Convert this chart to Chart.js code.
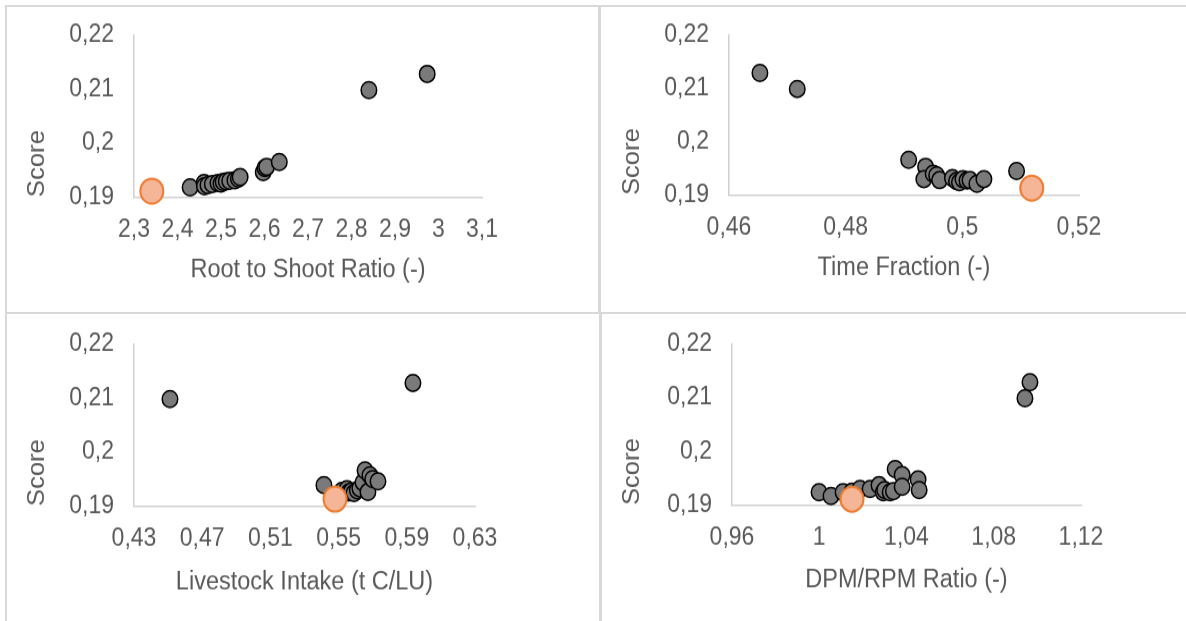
<!DOCTYPE html>
<html>
<head>
<meta charset="utf-8">
<script src="https://cdn.jsdelivr.net/npm/chart.js@4.4.0/dist/chart.umd.min.js"></script>
<style>
    body { margin: 0; background: #fff; width: 1186px; height: 621px; overflow: hidden; position: relative; }
    .frame { position: absolute; box-sizing: border-box; border: 2px solid #d9d9d9; }
    canvas { position: absolute; }
</style>
</head>
<body>
<div class="frame" style="left:5px; top:5px; width:595px; height:309px;"></div>
<div class="frame" style="left:599px; top:5px; width:600px; height:309px;"></div>
<div class="frame" style="left:5px; top:312px; width:596px; height:320px;"></div>
<div class="frame" style="left:600px; top:312px; width:600px; height:320px;"></div>

<canvas id="c-root" style="left:7px; top:7px;"></canvas>
<canvas id="c-time" style="left:601px; top:7px;"></canvas>
<canvas id="c-intake" style="left:7px; top:316px;"></canvas>
<canvas id="c-dpm" style="left:602px; top:316px;"></canvas>

<script>
// Root to shoot ratio
const rootX = [2.429, 2.461, 2.462, 2.470, 2.480, 2.493, 2.500, 2.505, 2.512, 2.520, 2.532, 2.540, 2.544, 2.597, 2.601, 2.605, 2.634, 2.840, 2.974];
const rootY = [0.1918, 0.1926, 0.1920, 0.1922, 0.1924, 0.1926, 0.1925, 0.1928, 0.1929, 0.1930, 0.1931, 0.1934, 0.1937, 0.1946, 0.1954, 0.1956, 0.1965, 0.2098, 0.2128];
const rootBest = [2.341, 0.1911];
const rootTicks = [2.3, 3.1, 0.1];

// Time fraction
const timeX = [0.4653, 0.4717, 0.4908, 0.4937, 0.4934, 0.4950, 0.4956, 0.4961, 0.4983, 0.4990, 0.4995, 0.5001, 0.5008, 0.5013, 0.5025, 0.5037, 0.5093];
const timeY = [0.2129, 0.2099, 0.1966, 0.1953, 0.1930, 0.1940, 0.1937, 0.1928, 0.1932, 0.1926, 0.1924, 0.1930, 0.1927, 0.1928, 0.1921, 0.1930, 0.1945];
const timeBest = [0.5119, 0.1913];
const timeTicks = [0.46, 0.52, 0.02];

// Livestock intake
const intakeX = [0.4511, 0.5936, 0.5414, 0.5490, 0.5520, 0.5549, 0.5560, 0.5575, 0.5590, 0.5610, 0.5625, 0.5643, 0.5655, 0.5672, 0.5684, 0.5700, 0.5731];
const intakeY = [0.2098, 0.2128, 0.1939, 0.1920, 0.1928, 0.1931, 0.1925, 0.1927, 0.1924, 0.1929, 0.1933, 0.1944, 0.1966, 0.1926, 0.1957, 0.1950, 0.1946];
const intakeBest = [0.5479, 0.1913];
const intakeTicks = [0.43, 0.63, 0.04];

// DPM/RPM ratio
const dpmX = [1.0966, 1.0943, 0.9999, 1.0054, 1.0109, 1.0150, 1.0187, 1.0233, 1.0274, 1.0293, 1.0300, 1.0325, 1.0340, 1.0348, 1.0380, 1.0380, 1.0453, 1.0458];
const dpmY = [0.2129, 0.2099, 0.1924, 0.1917, 0.1924, 0.1925, 0.1930, 0.1930, 0.1937, 0.1924, 0.1928, 0.1924, 0.1926, 0.1967, 0.1956, 0.1934, 0.1948, 0.1928];
const dpmBest = [1.0150, 0.1911];
const dpmTicks = [0.96, 1.12, 0.04];

const scoreTicks = [0.19, 0.22, 0.01];

const FONT = "'Liberation Sans', Arial, sans-serif";
const TEXT = '#595959';
const AXIS = '#d0d0d0';
const TICK_SIZE = 23;
const TITLE_SIZE = 23.5;
// the original picture is a little taller than wide, so draw short and stretch
const K = 1.09;

function fmt(v) {
    return String(Number(v.toFixed(3))).replace('.', ',');
}

function makeChart(id, xs, ys, best, xTicks, xTitle, box) {
    const canvas = document.getElementById(id);
    canvas.width = box.w;
    canvas.height = Math.round(box.h / K);
    canvas.style.width = box.w + 'px';
    canvas.style.height = box.h + 'px';

    const halfTitle = TITLE_SIZE * 1.2 / 2;
    const points = xs.map((x, i) => ({ x: x, y: ys[i] }));
    return new Chart(canvas, {
        type: 'scatter',
        data: {
            datasets: [
                {
                    data: points,
                    order: 1,
                    clip: false,
                    pointRadius: 7.75,
                    pointHoverRadius: 7.75,
                    backgroundColor: '#7a7a7a',
                    borderColor: '#000',
                    borderWidth: 1.5
                },
                {
                    data: [{ x: best[0], y: best[1] }],
                    order: 0,
                    clip: false,
                    pointRadius: 11.5,
                    pointHoverRadius: 11.5,
                    backgroundColor: '#f5b597',
                    borderColor: '#ed7d31',
                    borderWidth: 2
                }
            ]
        },
        options: {
            responsive: false,
            animation: false,
            events: [],
            layout: { padding: { left: 0, top: box.top / K, right: box.right, bottom: 0 } },
            plugins: { legend: { display: false }, tooltip: { enabled: false } },
            scales: {
                x: {
                    type: 'linear',
                    min: xTicks[0],
                    max: xTicks[1],
                    grid: { display: false, drawTicks: false },
                    border: { color: AXIS, width: 1.5 },
                    ticks: {
                        stepSize: xTicks[2],
                        padding: 16,
                        color: TEXT,
                        font: { family: FONT, size: TICK_SIZE },
                        maxRotation: 0,
                        autoSkip: false,
                        callback: v => fmt(v)
                    },
                    title: {
                        display: true,
                        text: xTitle,
                        color: TEXT,
                        font: { family: FONT, size: TITLE_SIZE },
                        padding: { top: 0, bottom: box.xTitle / K - halfTitle }
                    },
                    afterFit: s => {
                        s.height = box.xHeight / K;
                        s.paddingLeft = 0;
                        s.paddingRight = 0;
                    }
                },
                y: {
                    type: 'linear',
                    min: scoreTicks[0],
                    max: scoreTicks[1],
                    grid: { display: false, drawTicks: false },
                    border: { color: AXIS, width: 1.5 },
                    ticks: {
                        stepSize: scoreTicks[2],
                        padding: 20,
                        color: TEXT,
                        font: { family: FONT, size: TICK_SIZE },
                        callback: v => fmt(v)
                    },
                    title: {
                        display: true,
                        text: 'Score',
                        align: 'start',
                        color: TEXT,
                        font: { family: FONT, size: TITLE_SIZE },
                        padding: { top: box.yTitle - halfTitle, bottom: 0 }
                    },
                    afterFit: s => {
                        s.width = box.yWidth;
                        s.paddingTop = 0;
                        s.paddingBottom = 0;
                    }
                }
            }
        }
    });
}

makeChart('c-root', rootX, rootY, rootBest, rootTicks, 'Root to Shoot Ratio (-)',
    { w: 590, h: 304, top: 28, right: 115, yWidth: 127, xHeight: 114, xTitle: 41, yTitle: 31 });
makeChart('c-time', timeX, timeY, timeBest, timeTicks, 'Time Fraction (-)',
    { w: 585, h: 304, top: 28, right: 107, yWidth: 128, xHeight: 116, xTitle: 43, yTitle: 32 });
makeChart('c-intake', intakeX, intakeY, intakeBest, intakeTicks, 'Livestock Intake (t C/LU)',
    { w: 590, h: 305, top: 28, right: 122, yWidth: 127, xHeight: 115, xTitle: 39, yTitle: 31 });
makeChart('c-dpm', dpmX, dpmY, dpmBest, dpmTicks, 'DPM/RPM Ratio (-)',
    { w: 584, h: 305, top: 28, right: 105, yWidth: 130, xHeight: 116, xTitle: 41, yTitle: 31 });
</script>
</body>
</html>
